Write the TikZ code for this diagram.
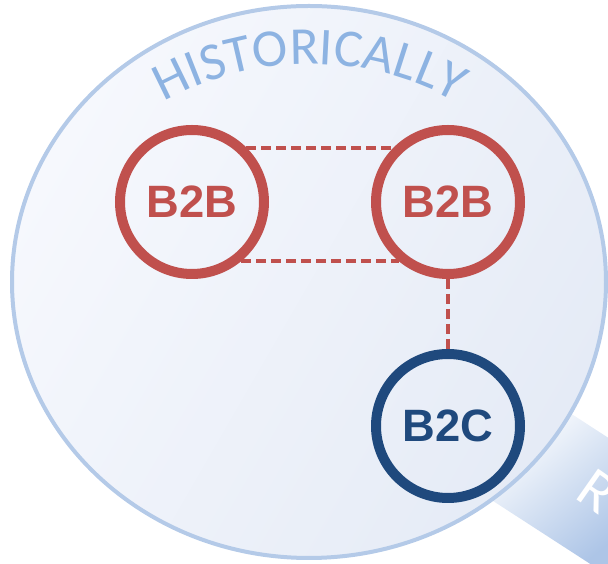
\documentclass[tikz,border=0pt]{standalone}
\usepackage{fontspec}
\usetikzlibrary{decorations.text}

\newfontfamily\calibri{Carlito}
\newfontfamily\arial{Liberation Sans}

\definecolor{rojo}{HTML}{C0504D}
\definecolor{azul}{HTML}{1F497D}
\definecolor{borde}{HTML}{B4CAE8}
\definecolor{letra}{HTML}{8DB3E2}
\definecolor{fondoA}{HTML}{F6F8FD}
\definecolor{fondoB}{HTML}{E5EBF6}
\definecolor{mangoazul}{HTML}{ADC5E7}

\begin{document}
\begin{tikzpicture}[x=0.75pt,y=0.75pt,
  nodo/.style={circle,draw,line width=7.5pt,minimum size=108pt,inner sep=0pt,
    font=\arial\bfseries\fontsize{34}{34}\selectfont},
  enlace/.style={rojo,line width=3pt,dash pattern=on 7.5pt off 3.75pt}]
\useasboundingbox (0,0) rectangle (608,564);

% Mango de la lupa
\begin{scope}
  \clip (490,65) -- (700,-71) -- (763,26) -- (553,162) -- cycle;
  \shade[top color=white,bottom color=mangoazul,shading angle=40]
    (480,-10) rectangle (620,150);
\end{scope}
\node[rotate=-35,anchor=base west,inner sep=0pt,white,
  font=\calibri\fontsize{44}{44}\selectfont] (r) at (573,67) {R};

% Lente
\shade[top color=fondoA,bottom color=fondoB,shading angle=60]
  (309,282) ellipse [x radius=222.75pt,y radius=207pt];
\draw[borde,line width=3pt] (309,282) ellipse [x radius=222.75pt,y radius=207pt];

% Texto en arco
\path[decorate,decoration={text along path,text align=center,text color=letra,
  text={|\calibri\fontsize{40}{40}\selectfont|HISTORICALLY}}]
  (310,200) ++(126:225pt) arc[start angle=126,end angle=54,radius=225pt];

% Nodos
\node[nodo,rojo] (b2bizq) at (192,362) {B2B};
\node[nodo,rojo] (b2bder) at (448,362) {B2B};
\node[nodo,azul] (b2c) at (448,138) {B2C};

% Enlaces
\draw[enlace] (b2bizq.45) -- (b2bder.135);
\draw[enlace] (b2bizq.-50) -- (b2bder.-130);
\draw[enlace] (b2bder.south) -- (b2c.north);
\end{tikzpicture}
\end{document}
